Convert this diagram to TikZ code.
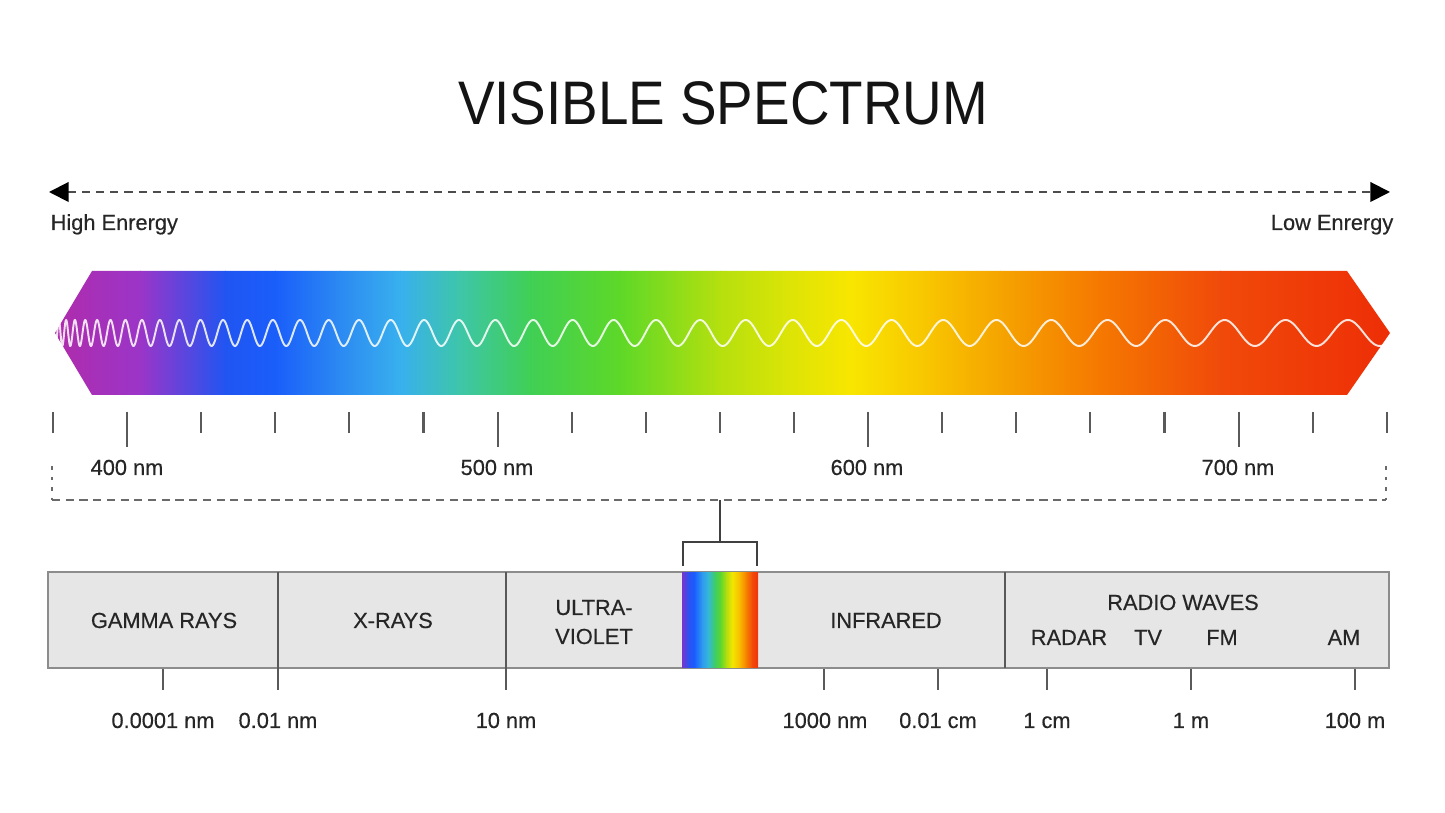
\documentclass[tikz,border=0pt]{standalone}
\usepackage{fontspec}
\setmainfont{Liberation Sans}
\newfontfamily\medfam{Liberation Sans}[FakeBold=0.35]
\usetikzlibrary{arrows.meta}
\definecolor{txt}{HTML}{262626}
\definecolor{tickc}{HTML}{5A5A5A}
\definecolor{barfill}{HTML}{E6E6E6}
\definecolor{barline}{HTML}{8C8C8C}
\definecolor{dashc}{HTML}{6A6A6A}
% band colours
\definecolor{b1}{HTML}{B32AA6}
\definecolor{b2}{HTML}{9B35C8}
\definecolor{b3}{HTML}{2055F2}
\definecolor{b4}{HTML}{1A5EFA}
\definecolor{b5}{HTML}{2C8AF2}
\definecolor{b6}{HTML}{38B0EE}
\definecolor{b7}{HTML}{3EC6A8}
\definecolor{b8}{HTML}{40CF55}
\definecolor{b9}{HTML}{5ED828}
\definecolor{b10}{HTML}{B5E00E}
\definecolor{b11}{HTML}{DDE406}
\definecolor{b12}{HTML}{F8E600}
\definecolor{b13}{HTML}{F8C400}
\definecolor{b14}{HTML}{F5A400}
\definecolor{b15}{HTML}{F57800}
\definecolor{b16}{HTML}{F04A0A}
\definecolor{b17}{HTML}{EE2C06}
% strip colours
\definecolor{r1}{HTML}{8A2EC0}
\definecolor{r2}{HTML}{3050F0}
\definecolor{r3}{HTML}{1A5CFF}
\definecolor{r4}{HTML}{2E9AF0}
\definecolor{r5}{HTML}{35B8D8}
\definecolor{r6}{HTML}{3CCB70}
\definecolor{r7}{HTML}{5AD630}
\definecolor{r8}{HTML}{B0DE10}
\definecolor{r9}{HTML}{F2E600}
\definecolor{r10}{HTML}{F8BE00}
\definecolor{r11}{HTML}{F58000}
\definecolor{r12}{HTML}{F24A08}
\definecolor{r13}{HTML}{EE2A06}
\newcommand\lblfont{\medfam\fontsize{6.2pt}{7pt}\selectfont}
\newcommand\ttlfont{\fontsize{15.9pt}{18pt}\selectfont}
\begin{document}
\begin{tikzpicture}[x=0.01cm,y=-0.01cm,
  lbltxt/.style={font=\lblfont, text=txt, inner sep=0pt, anchor=base},
  tickline/.style={draw=tickc, line width=0.6pt},
  dashline/.style={draw=dashc, line width=0.45pt, dash pattern=on 2.3pt off 1.6pt},
  bracketline/.style={draw=black!75, line width=0.55pt},
  barbox/.style={draw=barline, fill=barfill, line width=0.55pt},
  divline/.style={draw=black!65, line width=0.6pt}]
\useasboundingbox (0,0) rectangle (1445,813);
\fill[white] (0,0) rectangle (1445,813);

% title
\node[anchor=base, inner sep=0pt, font=\ttlfont, text=black!92] (title) at (723,125) {\scalebox{0.98}[1.1]{VISIBLE SPECTRUM}};

% energy arrow
\coordinate (ha) at (49,192);
\coordinate (la) at (1390,192);
\draw[draw=black!70, line width=0.55pt, dash pattern=on 2.3pt off 1.7pt,
  {Triangle[length=5.6pt,width=5.6pt,color=black]}-{Triangle[length=5.6pt,width=5.6pt,color=black]}] (ha) -- (la);
\node[lbltxt, anchor=base west] (he) at (50,230) {High Enrergy};
\node[lbltxt, anchor=base east] (le) at (1394,230) {Low Enrergy};

% spectrum band
\begin{scope}
\clip (55,333) -- (92,271) -- (1347,271) -- (1390,333) -- (1347,395) -- (92,395) -- cycle;
\foreach \xa/\ca/\xb/\cb in {40/b1/140/b2, 140/b2/225/b3, 225/b3/275/b4, 275/b4/340/b5,
  340/b5/400/b6, 400/b6/460/b7, 460/b7/530/b8, 530/b8/620/b9, 620/b9/720/b10,
  720/b10/790/b11, 790/b11/850/b12, 850/b12/930/b13, 930/b13/1000/b14,
  1000/b14/1100/b15, 1100/b15/1220/b16, 1220/b16/1400/b17}
  \shade[left color=\ca, right color=\cb] (\xa,265) rectangle ({\xb+0.8},400);
\end{scope}

% wave
\draw[white, line width=0.55pt, opacity=0.85, line join=round]
  plot[domain=3.2:36.6, samples=1400, variable=\t] ({45+\t*\t},{333-13*sin(411.4*\t)});

% scale ticks
\foreach \i in {0,...,18} {
  \pgfmathsetmacro\tx{53+74.1*\i}
  \draw[tickline] (\tx,412) -- (\tx,433);
}
\foreach \i in {1,6,11,16} {
  \pgfmathsetmacro\tx{53+74.1*\i}
  \draw[tickline] (\tx,412) -- (\tx,447);
}
\node[lbltxt] (n400) at (127,475) {400 nm};
\node[lbltxt] (n500) at (497,475) {500 nm};
\node[lbltxt] (n600) at (867,475) {600 nm};
\node[lbltxt] (n700) at (1238,475) {700 nm};

% dashed bracket
\coordinate (dl) at (52,466);
\coordinate (dbl) at (52,500);
\coordinate (dbr) at (1386,500);
\coordinate (dr) at (1386,466);
\draw[dashline, dash pattern=on 1pt off 2pt] (dl) -- (dbl);
\draw[dashline, dash pattern=on 1pt off 2pt] (dr) -- (dbr);
\draw[dashline] (dbl) -- (dbr);

% connector to visible strip
\coordinate (stemtop) at (720,500);
\coordinate (stembot) at (720,542);
\coordinate (brl) at (683,542);
\coordinate (brr) at (757,542);
\coordinate (brlb) at (683,566);
\coordinate (brrb) at (757,566);
\draw[bracketline] (stemtop) -- (stembot);
\draw[bracketline, line join=miter] (brlb) -- (brl) -- (brr) -- (brrb);

% spectrum bar
\draw[barbox] (48,572) rectangle (1389,668);
\begin{scope}
\clip (682,573) rectangle (758,668);
\foreach \xa/\ca/\xb/\cb in {680/r1/688/r2, 688/r2/694/r3, 694/r3/702/r4, 702/r4/708/r5,
  708/r5/714/r6, 714/r6/720/r7, 720/r7/726/r8, 726/r8/732/r9, 732/r9/739/r10,
  739/r10/746/r11, 746/r11/752/r12, 752/r12/760/r13}
  \shade[left color=\ca, right color=\cb] (\xa,570) rectangle ({\xb+0.5},670);
\end{scope}
\draw[divline] (278,572) -- (278,690);
\draw[divline] (506,572) -- (506,690);
\draw[divline] (1005,572) -- (1005,668);

\node[lbltxt] (gamma) at (164,628) {GAMMA RAYS};
\node[lbltxt] (xray) at (393,628) {X-RAYS};
\node[lbltxt] (uv1) at (594,615) {ULTRA-};
\node[lbltxt] (uv2) at (594,644) {VIOLET};
\node[lbltxt] (ir) at (886,628) {INFRARED};
\node[lbltxt] (radio) at (1183,610) {RADIO WAVES};
\node[lbltxt] (radar) at (1069,645) {RADAR};
\node[lbltxt] (tv) at (1148,645) {TV};
\node[lbltxt] (fm) at (1222,645) {FM};
\node[lbltxt] (am) at (1344,645) {AM};

% bottom ticks
\foreach \tx in {163,824,938,1047,1191,1355}
  \draw[tickline] (\tx,669) -- (\tx,690);
\node[lbltxt] (w1) at (163,728) {0.0001 nm};
\node[lbltxt] (w2) at (278,728) {0.01 nm};
\node[lbltxt] (w3) at (506,728) {10 nm};
\node[lbltxt] (w4) at (825,728) {1000 nm};
\node[lbltxt] (w5) at (938,728) {0.01 cm};
\node[lbltxt] (w6) at (1047,728) {1 cm};
\node[lbltxt] (w7) at (1191,728) {1 m};
\node[lbltxt] (w8) at (1355,728) {100 m};
\end{tikzpicture}
\end{document}
